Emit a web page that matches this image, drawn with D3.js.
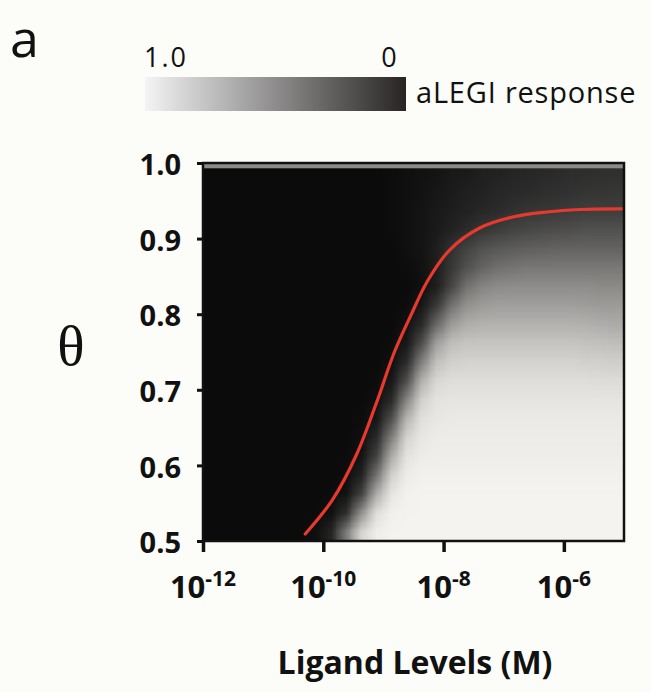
<!DOCTYPE html>
<html>
<head>
<meta charset="utf-8">
<script src="https://cdn.jsdelivr.net/npm/d3@7/dist/d3.min.js"></script>
<style>
  html, body { margin: 0; padding: 0; background: #fcfcf8; }
  svg { display: block; }
</style>
</head>
<body>
<svg id="chart" width="651" height="692"></svg>
<script>
// ---------- data ----------
// heatmap cell centres (log10 of ligand concentration, M) and theta
const colLogL = [-11.875,-11.625,-11.375,-11.125,-10.875,-10.625,-10.375,-10.125,-9.875,-9.625,
  -9.375,-9.125,-8.875,-8.625,-8.375,-8.125,-7.875,-7.625,-7.375,-7.125,-6.875,-6.625,-6.375,
  -6.125,-5.875,-5.625,-5.375,-5.125];
const rowTheta = [0.5125,0.5375,0.5625,0.5875,0.6125,0.6375,0.6625,0.6875,0.7125,0.7375,
  0.7625,0.7875,0.8125,0.8375,0.8625,0.8875,0.9125,0.9375,0.9625,0.9875];
// aLEGI response, one row per theta (bottom to top), one value per column
const response = [
  [0,0,0,0,0,0,0,.02,.11,.49,.87,.98,1,1,1,1,1,1,1,1,1,1,1,1,1,1,1,1],
  [0,0,0,0,0,0,0,.005,.025,.16,.58,.91,.985,1,1,1,1,1,1,1,1,1,1,1,1,1,1,1],
  [0,0,0,0,0,0,0,0,.006,.04,.24,.70,.945,.99,1,1,1,1,1,1,1,1,1,1,1,1,1,1],
  [0,0,0,0,0,0,0,0,0,.015,.10,.45,.85,.97,.99,.99,.99,.99,.99,.99,.99,.99,.99,.99,.99,.99,.99,.99],
  [0,0,0,0,0,0,0,0,0,.006,.04,.24,.69,.93,.97,.98,.98,.98,.98,.98,.98,.98,.98,.98,.98,.98,.98,.98],
  [0,0,0,0,0,0,0,0,0,0,.02,.13,.50,.86,.95,.97,.97,.97,.97,.97,.97,.97,.97,.97,.97,.97,.97,.97],
  [0,0,0,0,0,0,0,0,0,0,.008,.05,.29,.73,.92,.95,.96,.96,.96,.96,.96,.96,.96,.96,.96,.96,.96,.96],
  [0,0,0,0,0,0,0,0,0,0,0,.02,.13,.52,.85,.93,.94,.94,.94,.94,.94,.94,.94,.94,.94,.94,.94,.94],
  [0,0,0,0,0,0,0,0,0,0,0,.009,.055,.29,.71,.88,.91,.91,.91,.91,.91,.91,.91,.91,.91,.91,.90,.90],
  [0,0,0,0,0,0,0,0,0,0,0,0,.02,.14,.50,.78,.85,.86,.86,.86,.86,.86,.86,.86,.86,.85,.85,.84],
  [0,0,0,0,0,0,0,0,0,0,0,0,.01,.055,.28,.64,.77,.80,.80,.80,.80,.80,.80,.80,.80,.79,.78,.77],
  [0,0,0,0,0,0,0,0,0,0,0,0,0,.03,.13,.40,.62,.70,.72,.72,.72,.72,.72,.72,.72,.71,.70,.69],
  [0,0,0,0,0,0,0,0,0,0,0,0,0,.01,.05,.20,.44,.58,.62,.64,.64,.64,.64,.64,.64,.63,.62,.62],
  [0,0,0,0,0,0,0,0,0,0,0,0,0,0,.02,.08,.25,.44,.52,.55,.56,.56,.56,.56,.56,.56,.55,.55],
  [0,0,0,0,0,0,0,0,0,0,0,0,0,.01,.03,.08,.19,.30,.38,.43,.45,.47,.47,.47,.47,.47,.47,.47],
  [0,0,0,0,0,0,0,0,0,0,0,0,0,.02,.04,.08,.17,.24,.30,.33,.35,.36,.37,.38,.38,.38,.38,.38],
  [0,0,0,0,0,0,0,0,0,0,0,0,.01,.02,.04,.07,.10,.14,.18,.21,.24,.26,.27,.28,.29,.30,.30,.30],
  [0,0,0,0,0,0,0,0,0,0,0,0,.01,.02,.04,.06,.08,.10,.12,.14,.16,.18,.19,.20,.21,.22,.22,.22],
  [0,0,0,0,0,0,0,0,0,0,0,0,.01,.02,.03,.05,.07,.09,.10,.12,.13,.14,.15,.16,.17,.18,.18,.19],
  [0,0,0,0,0,0,0,0,0,0,0,0,.01,.02,.03,.04,.06,.07,.09,.10,.11,.12,.13,.14,.15,.15,.16,.16]
];
// thin band at theta ~ 1.0
const topBandTheta = [0.993, 1.0];
const topBandResponse = 0.55;

// red boundary curve
const curveLogL  = [-10.30,-9.85,-9.45,-9.117,-8.817,-8.533,-8.267,-7.90,-7.40,-6.85,-6.283,-5.733,-5.033];
const curveTheta = [0.5093,0.5542,0.6138,0.6825,0.7500,0.8003,0.8439,0.8849,0.9140,0.9286,0.9352,0.9385,0.9392];

// axes
const xTicks = [1e-12, 1e-10, 1e-8, 1e-6];
const xTickExp = ["-12", "-10", "-8", "-6"];
const yTicks = [0.5, 0.6, 0.7, 0.8, 0.9, 1.0];
const xDomain = [1e-12, 1e-5];
const yDomain = [0.5, 1.0];
const colorbarLabels = ["1.0", "0"];
const colorbarValues = [1, 0];

// ---------- layout ----------
const svg = d3.select("#chart");
const plot = { left: 203, right: 624, top: 163, bottom: 541 };

const x = d3.scaleLog().domain(xDomain).range([plot.left, plot.right]);
const y = d3.scaleLinear().domain(yDomain).range([plot.bottom, plot.top]);
const color = d3.scaleLinear().domain([0, 1]).range(["#0b0b0b", "#f5f3ef"]).interpolate(d3.interpolateRgb);
const barColor = d3.scaleLinear().domain([0, 1]).range(["#282424", "#f4f4f4"]);

const FONT = "'Open Sans', 'Liberation Sans', sans-serif";

// ---------- heatmap (raster of cells, smoothed) ----------
const nC = colLogL.length, nR = rowTheta.length;
const cv = document.createElement("canvas");
cv.width = nC; cv.height = nR;
const ctx = cv.getContext("2d");
const img = ctx.createImageData(nC, nR);
for (let r = 0; r < nR; r++) {
  const src = response[nR - 1 - r];
  for (let c = 0; c < nC; c++) {
    const col = d3.rgb(color(src[c]));
    const k = (r * nC + c) * 4;
    img.data[k] = col.r; img.data[k + 1] = col.g; img.data[k + 2] = col.b; img.data[k + 3] = 255;
  }
}
ctx.putImageData(img, 0, 0);
const halfC = (colLogL[1] - colLogL[0]) / 2, halfR = (rowTheta[1] - rowTheta[0]) / 2;
const x0 = x(Math.pow(10, colLogL[0] - halfC)), x1 = x(Math.pow(10, colLogL[nC - 1] + halfC));
const y0 = y(rowTheta[nR - 1] + halfR), y1 = y(rowTheta[0] - halfR);
svg.append("image")
  .attr("href", cv.toDataURL())
  .attr("x", x0).attr("y", y0)
  .attr("width", x1 - x0).attr("height", y1 - y0)
  .attr("preserveAspectRatio", "none");

// top band
svg.append("rect")
  .attr("x", plot.left).attr("width", plot.right - plot.left)
  .attr("y", y(topBandTheta[1])).attr("height", y(topBandTheta[0]) - y(topBandTheta[1]))
  .attr("fill", color(topBandResponse));

// red curve
const line = d3.line()
  .x((d, i) => x(Math.pow(10, curveLogL[i])))
  .y((d, i) => y(curveTheta[i]))
  .curve(d3.curveCatmullRom.alpha(0.5));
svg.append("path")
  .attr("d", line(curveLogL))
  .attr("fill", "none").attr("stroke", "#e8392e").attr("stroke-width", 3.2)
  .attr("stroke-linecap", "round").attr("stroke-linejoin", "round");

// frame
svg.append("rect")
  .attr("x", plot.left).attr("y", plot.top)
  .attr("width", plot.right - plot.left).attr("height", plot.bottom - plot.top)
  .attr("fill", "none").attr("stroke", "#111").attr("stroke-width", 2.5);

// x axis
const gx = svg.append("g").attr("transform", `translate(0,${plot.bottom})`)
  .call(d3.axisBottom(x).tickValues(xTicks).tickSize(11).tickFormat(""));
gx.select(".domain").remove();
gx.selectAll(".tick line").attr("stroke", "#111").attr("stroke-width", 3.5);
const xl = svg.append("g");
xTicks.forEach((t, i) => {
  const tx = xl.append("text")
    .attr("x", x(t)).attr("y", 598)
    .attr("text-anchor", "middle")
    .attr("font-family", FONT).attr("font-weight", 700).attr("font-size", 31)
    .attr("fill", "#111");
  tx.append("tspan").text("10");
  tx.append("tspan").attr("font-size", 21).attr("dy", -12).text(xTickExp[i]);
});

// y axis
const gy = svg.append("g").attr("transform", `translate(${plot.left},0)`)
  .call(d3.axisLeft(y).tickValues(yTicks).tickSize(6).tickPadding(16).tickFormat(d3.format(".1f")));
gy.select(".domain").remove();
gy.selectAll(".tick line").attr("stroke", "#111").attr("stroke-width", 3);
gy.selectAll(".tick text")
  .attr("font-family", FONT).attr("font-weight", 700).attr("font-size", 29)
  .attr("fill", "#111").attr("dy", "0.4em");

// axis titles
svg.append("text")
  .attr("x", 415).attr("y", 674).attr("text-anchor", "middle")
  .attr("font-family", FONT).attr("font-weight", 700).attr("font-size", 32)
  .attr("fill", "#111").text("Ligand Levels (M)");
svg.append("text")
  .attr("x", 71).attr("y", 365).attr("text-anchor", "middle")
  .attr("font-family", "'Liberation Serif', 'DejaVu Serif', serif").attr("font-size", 57)
  .attr("fill", "#111").text("θ");

// panel letter
svg.append("text")
  .attr("x", 10).attr("y", 57)
  .attr("font-family", FONT).attr("font-size", 52)
  .attr("fill", "#111").text("a");

// ---------- colour bar ----------
const cb = { x: 145, y: 77, w: 261, h: 34 };
const cbScale = d3.scaleLinear().domain([1, 0]).range([cb.x, cb.x + cb.w]);
const defs = svg.append("defs");
const grad = defs.append("linearGradient").attr("id", "cbgrad")
  .attr("x1", "0%").attr("x2", "100%").attr("y1", "0%").attr("y2", "0%");
d3.range(0, 1.0001, 0.1).forEach(f => {
  grad.append("stop").attr("offset", (f * 100) + "%").attr("stop-color", barColor(1 - f));
});
svg.append("rect")
  .attr("x", cb.x).attr("y", cb.y).attr("width", cb.w).attr("height", cb.h)
  .attr("fill", "url(#cbgrad)");
colorbarLabels.forEach((lab, i) => {
  svg.append("text")
    .attr("x", i === 0 ? cbScale(colorbarValues[i]) + 21 : cbScale(colorbarValues[i]) - 16)
    .attr("y", 67).attr("text-anchor", "middle")
    .attr("font-family", FONT).attr("font-size", 27).attr("letter-spacing", 2)
    .attr("fill", "#111").text(lab);
});
svg.append("text")
  .attr("x", 416).attr("y", 103)
  .attr("font-family", FONT).attr("font-size", 29).attr("letter-spacing", 0.8)
  .attr("fill", "#111").text("aLEGI response");
</script>
</body>
</html>
